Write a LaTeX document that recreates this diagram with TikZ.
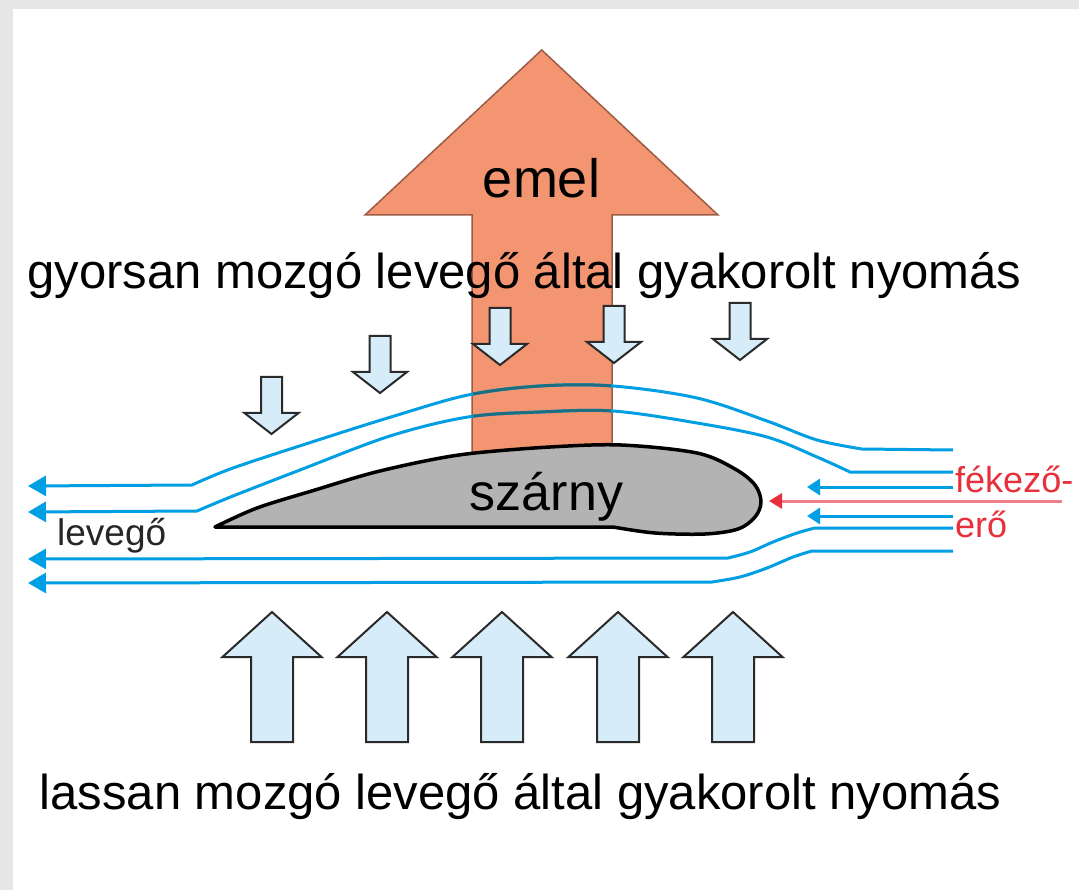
\documentclass[tikz,border=0pt]{standalone}
\usepackage{fontspec}
\setmainfont{Liberation Sans}
\usetikzlibrary{arrows.meta}
\definecolor{bgframe}{HTML}{E6E6E6}
\definecolor{liftfill}{HTML}{F39571}
\definecolor{liftline}{HTML}{9C5B45}
\definecolor{flow}{HTML}{009FE3}
\definecolor{flowdark}{HTML}{1D6E80}
\definecolor{pressfill}{HTML}{D6ECF9}
\definecolor{pressline}{HTML}{2A2A2A}
\definecolor{wingfill}{HTML}{B3B3B3}
\definecolor{dragred}{HTML}{E8303C}
\definecolor{dragline}{HTML}{EE8088}
\definecolor{labelgrey}{HTML}{262626}
\newcommand\flowApath{(953,450) -- (862,449) -- plot[smooth,tension=0.55] coordinates {(862,449) (817,440) (767,421) (697,398) (613,386) (540,386) (468,395) (391,417) (315,441) (233,468) (192,485)} -- (28,486)}
\newcommand\flowBpath{(953,472) -- (850,472) -- plot[smooth,tension=0.55] coordinates {(850,472) (817,457) (767,437) (697,423) (613,411) (540,412) (468,417) (390,436) (300,470) (233,496) (197,511)} -- (28,512)}
\begin{document}
\begin{tikzpicture}[x=1pt,y=-1pt,
  flowline/.style={draw=flow,line width=3pt,-{Triangle[length=18pt,width=20pt]}},
  flowshort/.style={draw=flow,line width=3pt,-{Triangle[length=13pt,width=16pt]}},
  dragarrow/.style={draw=dragline,line width=3pt,-{Triangle[length=13pt,width=15pt,color=dragred]}},
  pressarrow/.style={fill=pressfill,draw=pressline,line width=2pt,line join=miter},
  downarr/.pic={\path[pressarrow] (-10.5,-57) -- (10.5,-57) -- (10.5,-21) -- (27,-21) -- (0,0) -- (-27,-21) -- (-10.5,-21) -- cycle;},
  uparr/.pic={\path[pressarrow] (0,0) -- (49.5,45) -- (21,45) -- (21,130) -- (-21,130) -- (-21,45) -- (-49.5,45) -- cycle;},
  bigtext/.style={inner sep=0pt,anchor=base,font=\fontsize{49}{58}\selectfont,text=black},
  smalltext/.style={inner sep=0pt,anchor=base west,font=\fontsize{36}{42}\selectfont}
]
\useasboundingbox (0,0) rectangle (1079,890);
\fill[bgframe] (0,0) rectangle (1079,890);
\fill[white] (13,9) rectangle (1079,890);
% lift arrow
\path[fill=liftfill,draw=liftline,line width=1.5pt,line join=miter]
  (472,458) -- (472,215) -- (365,215) -- (541.7,50) -- (718,215) -- (612,215) -- (612,458) -- cycle;
\node[inner sep=0pt,anchor=base,font=\fontsize{54}{64}\selectfont] (emel) at (541.5,198) {emel};
% flow lines
\draw[flowline] \flowApath;
\draw[flowline] \flowBpath;
\begin{scope}
  \clip (473,215) rectangle (611,460);
  \draw[flowdark,line width=3pt] \flowApath;
  \draw[flowdark,line width=3pt] \flowBpath;
\end{scope}
\draw[flowline] (953,528) -- (815,528) -- plot[smooth,tension=0.55] coordinates {(815,528) (797,533) (773,542) (750,552) (728,558)} -- (28,559);
\draw[flowline] (953,551) -- (812,551) -- plot[smooth,tension=0.55] coordinates {(812,551) (793,557) (767,568) (740,577) (712,582)} -- (28,583);
\draw[flowshort] (953,487) -- (807,487);
\draw[flowshort] (953,516) -- (807,516);
\draw[dragarrow] (1062,501) -- (769,501);
% wing
\draw[fill=wingfill,draw=black,line width=3.5pt,line join=round]
  plot[smooth,tension=0.55] coordinates {(215,527) (257,508) (315,490) (372,473) (430,460) (475,453) (550,447) (621,445) (697,453) (735,469) (755,485) (761,502) (755,517) (738,529) (705,534) (655,533) (613,527)} -- cycle;
\node[inner sep=0pt,anchor=base,font=\fontsize{52}{60}\selectfont] (szarny) at (546.5,510) {szárny};
% pressure arrows above
\pic at (271.5,434) {downarr};
\pic at (380,393) {downarr};
\pic at (500,365) {downarr};
\pic at (614,363) {downarr};
\pic at (740,360) {downarr};
% pressure arrows below
\foreach \xx in {272,387,502,618,733} \pic at (\xx,612) {uparr};
% texts
\node[bigtext] (fast) at (524.5,289) {gyorsan mozgó levegő által gyakorolt nyomás};
\node[bigtext] (slow) at (520.5,809) {lassan mozgó levegő által gyakorolt nyomás};
\node[smalltext,text=dragred] (fek) at (955,492) {fékező-};
\node[smalltext,text=dragred] (ero) at (955,537) {erő};
\node[smalltext,text=labelgrey,font=\fontsize{37}{42}\selectfont] (lev) at (57,545) {levegő};
\end{tikzpicture}
\end{document}
